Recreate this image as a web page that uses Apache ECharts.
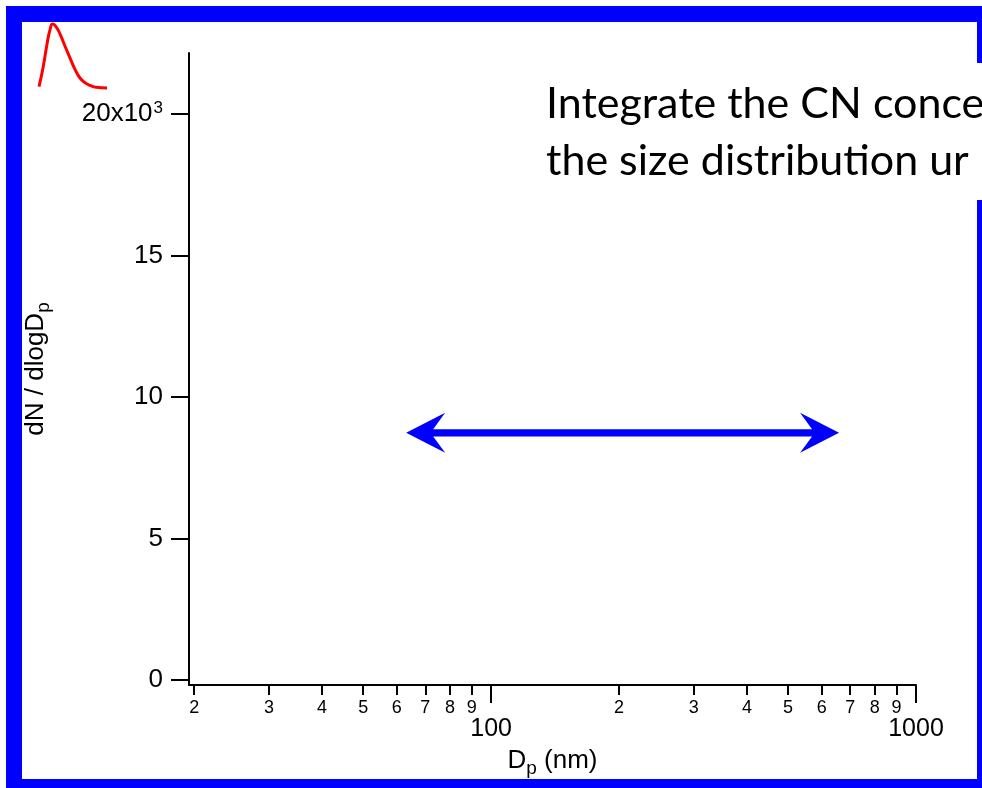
<!DOCTYPE html>
<html>
<head>
<meta charset="utf-8">
<script src="https://cdn.jsdelivr.net/npm/echarts@6/dist/echarts.min.js"></script>
<style>
html,body{margin:0;padding:0;background:#fff;}
#c{width:982px;height:788px;}
</style>
</head>
<body>
<div id="c"></div>
<script>
// ---- data ----
var majorTicksX = [100, 1000];
var minorTicksX = [20, 30, 40, 50, 60, 70, 80, 90, 200, 300, 400, 500, 600, 700, 800, 900];
var xMin = 19.45, xMax = 1000;
var yTicks = [0, 5000, 10000, 15000, 20000];
var yMin = -177, yMax = 22150;
var arrowX = [63.1, 659];     // Dp (nm), tips of the double arrow
var arrowY = [8730, 8730];    // dN/dlogDp
var iconX = [0, 0.06, 0.12, 0.16, 0.2, 0.25, 0.31, 0.38, 0.46, 0.53, 0.6, 0.68, 0.75, 0.84, 1.0];
var iconY = [0.02, 0.32, 0.7, 0.9, 1.0, 0.96, 0.84, 0.66, 0.46, 0.29, 0.16, 0.08, 0.04, 0.01, 0.0];
var textLines = ['Integrate the CN conce', 'the size distribution ur'];

var lg = function (v) { return Math.log10(v); };
var font = 'Liberation Sans';

var chart = echarts.init(document.getElementById('c'), null, {renderer: 'canvas'});
var option = {
  animation: false,
  backgroundColor: '#ffffff',
  grid: [
    {left: 189, top: 53, right: 66, bottom: 103, outerBoundsMode: 'none', containLabel: false},
    {left: 39, top: 24, width: 68, height: 64, outerBoundsMode: 'none', containLabel: false}
  ],
  xAxis: [
    {
      type: 'value', gridIndex: 0, position: 'bottom', min: lg(xMin), max: lg(xMax),
      axisLine: {show: true, onZero: false, lineStyle: {color: '#000', width: 2}},
      splitLine: {show: false},
      axisTick: {show: true, inside: false, length: 18, lineStyle: {color: '#000', width: 2},
        customValues: majorTicksX.map(lg)},
      axisLabel: {show: true, margin: 32, fontSize: 25, fontFamily: font, color: '#000',
        customValues: majorTicksX.map(lg),
        formatter: function (v) { return String(Math.round(Math.pow(10, v))); }},
      name: 'D{sub|p} (nm)', nameLocation: 'middle', nameGap: 58,
      nameTextStyle: {fontSize: 26, fontFamily: font, color: '#000',
        rich: {sub: {fontSize: 19, fontFamily: font, color: '#000', verticalAlign: 'bottom', padding: [16, 0, 0, 0]}}}
    },
    {
      type: 'value', gridIndex: 0, position: 'bottom', min: lg(xMin), max: lg(xMax),
      axisLine: {show: false, onZero: false},
      splitLine: {show: false},
      axisTick: {show: true, inside: false, length: 10, lineStyle: {color: '#000', width: 2},
        customValues: minorTicksX.map(lg)},
      axisLabel: {show: true, margin: 14, fontSize: 18, fontFamily: font, color: '#000',
        customValues: minorTicksX.map(lg),
        formatter: function (v) { return String(Math.round(Math.pow(10, v))).charAt(0); }}
    },
    {type: 'value', gridIndex: 1, min: 0, max: 1, show: false}
  ],
  yAxis: [
    {
      type: 'value', gridIndex: 0, min: yMin, max: yMax,
      axisLine: {show: true, onZero: false, lineStyle: {color: '#000', width: 2}},
      splitLine: {show: false},
      axisTick: {show: true, inside: false, length: 18, lineStyle: {color: '#000', width: 2},
        customValues: yTicks},
      axisLabel: {show: true, margin: 26, fontSize: 26, fontFamily: font, color: '#000',
        customValues: yTicks,
        formatter: function (v) {
          if (v === 20000) return '{a|20x10}{sup|3}';
          return '{a|' + (v / 1000) + '}';
        },
        rich: {
          a: {fontSize: 26, fontFamily: font, color: '#000'},
          sup: {fontSize: 17, fontFamily: font, color: '#000', verticalAlign: 'top', padding: [0, 0, 12, 1]}
        }},
      name: 'dN / dlogD{sub|p}', nameLocation: 'middle', nameGap: 136, nameRotate: 90,
      nameTextStyle: {fontSize: 26, fontFamily: font, color: '#000',
        rich: {sub: {fontSize: 19, fontFamily: font, color: '#000', verticalAlign: 'bottom', padding: [16, 0, 0, 0]}}}
    },
    {type: 'value', gridIndex: 1, min: 0, max: 1, show: false}
  ],
  series: [
    {
      type: 'custom', xAxisIndex: 0, yAxisIndex: 0, silent: true, clip: false,
      data: [[lg(arrowX[0]), lg(arrowX[1]), arrowY[0], arrowY[1]]],
      encode: {x: [0, 1], y: [2, 3]},
      renderItem: function (params, api) {
        var a = api.coord([api.value(0), api.value(2)]);
        var b = api.coord([api.value(1), api.value(3)]);
        var y = a[1], x1 = a[0], x2 = b[0];
        var hl = 39, hw = 20, nd = 27, sw = 3.7;
        var pts = [
          [x1, y], [x1 + hl, y - hw], [x1 + nd, y - sw], [x2 - nd, y - sw], [x2 - hl, y - hw],
          [x2, y], [x2 - hl, y + hw], [x2 - nd, y + sw], [x1 + nd, y + sw], [x1 + hl, y + hw]
        ];
        return {type: 'polygon', shape: {points: pts}, style: {fill: '#0000ff', stroke: null}};
      }
    },
    {
      type: 'line', xAxisIndex: 2, yAxisIndex: 1,
      data: iconX.map(function (x, i) { return [x, iconY[i]]; }),
      smooth: true, showSymbol: false, symbol: 'none',
      lineStyle: {color: '#ff0000', width: 3},
      clip: false, silent: true
    }
  ],
  graphic: [
    {type: 'rect', z: 100, shape: {x: 14, y: 14, width: 971, height: 773},
      style: {fill: 'none', stroke: '#0000ff', lineWidth: 16}},
    {type: 'rect', z: 101, shape: {x: 960, y: 63, width: 30, height: 137},
      style: {fill: '#ffffff'}},
    {type: 'text', z: 102, style: {x: 546, y: 104, text: textLines[0], font: '43px Lato', fill: '#000', verticalAlign: 'middle'}},
    {type: 'text', z: 102, style: {x: 546, y: 161, text: textLines[1], font: '43px Lato', fill: '#000', verticalAlign: 'middle'}}
  ]
};
chart.setOption(option);
</script>
</body>
</html>
